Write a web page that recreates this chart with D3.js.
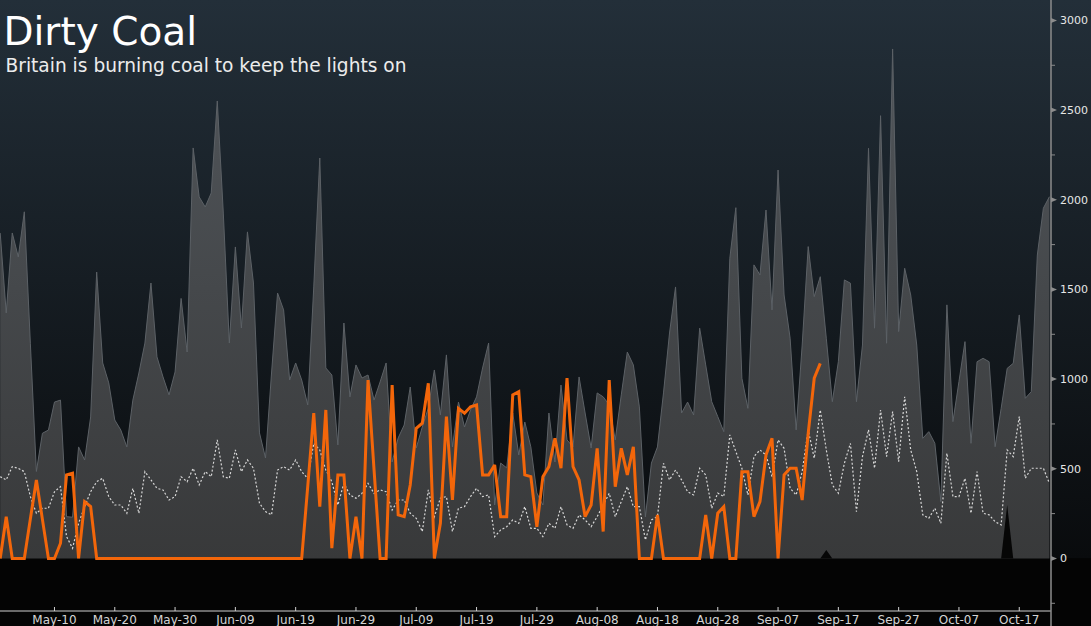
<!DOCTYPE html>
<html>
<head>
<meta charset="utf-8">
<script src="https://cdn.jsdelivr.net/npm/d3@7"></script>
<style>
  html, body { margin: 0; padding: 0; background: #040404; }
  svg { display: block; }
  text { font-family: "DejaVu Sans", Verdana, sans-serif; }
</style>
</head>
<body>
<svg id="chart" width="1091" height="626"></svg>
<script>
// ---------- DATA ----------
const startDate = "2019-05-01";   // first daily observation
const endDate = "2019-10-22";

// Grey area series (daily)
const greyValues = [
  1815,1369,1815,1681,1933,1200,485,698,716,872,
  883,233,230,622,549,789,1597,1090,979,772,
  716,622,883,1034,1201,1536,1124,1012,912,1040,
  1450,1151,2289,2016,1960,2038,2551,1926,1201,1737,
  1285,1821,1536,700,560,1034,1480,1386,995,1090,
  995,856,1514,2233,1062,1023,633,1313,901,1079,
  1006,1023,883,984,1090,538,672,744,956,616,
  733,839,1051,800,1135,622,872,733,828,901,
  1062,1201,298,532,505,811,577,761,622,365,
  298,811,538,967,661,622,1012,811,616,923,
  901,856,661,912,1151,1079,845,232,532,622,
  923,1257,1514,811,872,800,1284,1079,874,791,
  707,1674,1956,1005,837,1637,1581,1943,1386,2166,
  1469,1228,717,1190,1739,1460,1571,1228,874,1097,
  1553,1535,874,1190,2287,1284,2469,1200,2841,1265,
  1618,1469,1190,670,707,642,317,1414,763,986,
  1209,642,1097,1116,1097,623,837,1060,1088,1358,
  893,930,1692,1953,2017
];

// Dotted white line series (daily)
const dottedValues = [
  456,438,512,503,484,345,252,280,280,372,
  400,122,57,196,289,372,428,447,345,298,
  298,252,391,252,484,438,391,382,326,345,
  456,428,503,410,484,456,661,456,447,605,
  484,549,503,308,261,243,493,512,493,549,
  484,447,642,605,493,428,298,419,354,336,
  363,419,363,382,372,270,326,326,252,224,
  150,382,233,336,345,150,280,289,345,391,
  345,354,122,159,177,215,196,289,168,168,
  122,196,168,289,187,168,243,215,177,233,
  298,363,233,317,400,289,289,103,215,233,
  531,438,493,438,372,354,503,466,280,364,
  345,689,596,503,354,568,605,577,456,661,
  614,391,354,484,717,559,828,605,410,364,
  531,642,261,568,717,503,828,568,819,540,
  902,605,484,243,224,280,196,587,345,345,
  447,252,484,252,243,205,187,605,568,791,
  447,503,503,503,419
];

// Orange line series (daily, ends mid-September)
const orangeValues = [
  0,233,0,0,0,220,438,218,0,0,
  85,466,475,0,317,289,0,0,0,0,
  0,0,0,0,0,0,0,0,0,0,
  0,0,0,0,0,0,0,0,0,0,
  0,0,0,0,0,0,0,0,0,0,
  0,400,810,289,828,57,466,466,0,233,
  0,995,494,0,0,967,243,233,410,726,
  754,977,0,196,791,326,837,810,846,856,
  466,466,521,233,233,912,930,466,456,177,
  456,512,670,503,1005,512,438,233,298,614,
  150,995,400,614,466,623,0,0,0,243,
  0,0,0,0,0,0,0,243,0,252,
  289,0,0,484,484,233,317,577,670,0,
  466,503,503,326,698,1005,1088
];

// Dark (below-zero colour) spikes drawn in front of the grey area
const darkValues = new Array(175).fill(0);
darkValues[136] = 0; darkValues[137] = 47; darkValues[138] = 0;
darkValues[166] = 0; darkValues[167] = 298; darkValues[168] = 0;

const xTickLabels = ["May-10","May-20","May-30","Jun-09","Jun-19","Jun-29","Jul-09","Jul-19","Jul-29",
                     "Aug-08","Aug-18","Aug-28","Sep-07","Sep-17","Sep-27","Oct-07","Oct-17"];
const yTickValues = [0, 500, 1000, 1500, 2000, 2500, 3000];
const yMinorValues = [-250, 250, 750, 1250, 1750, 2250, 2750];

const title = "Dirty Coal";
const subtitle = "Britain is burning coal to keep the lights on";

// ---------- SETUP ----------
const W = 1091, H = 626;
const axisX = 1051, axisY = 611;
const parse = d3.timeParse("%Y-%m-%d");
const t0 = parse(startDate);
const dates = greyValues.map((_, i) => d3.timeDay.offset(t0, i));

const x = d3.scaleTime().domain([t0, parse(endDate)]).range([0.2, 1049.4]);
const y = d3.scaleLinear().domain([-293, 3114]).range([axisY, 0]);

const svg = d3.select("#chart");
const defs = svg.append("defs");

const bg = defs.append("linearGradient").attr("id", "bg")
  .attr("gradientUnits", "userSpaceOnUse").attr("x1", 0).attr("y1", 0).attr("x2", 0).attr("y2", y(0));
bg.append("stop").attr("offset", 0).attr("stop-color", "#232f39");
bg.append("stop").attr("offset", 0.5).attr("stop-color", "#161d23");
bg.append("stop").attr("offset", 1).attr("stop-color", "#090b0d");

const ag = defs.append("linearGradient").attr("id", "ag")
  .attr("gradientUnits", "userSpaceOnUse").attr("x1", 0).attr("y1", 20).attr("x2", 0).attr("y2", y(0));
ag.append("stop").attr("offset", 0).attr("stop-color", "#52575c");
ag.append("stop").attr("offset", 1).attr("stop-color", "#38393a");

defs.append("clipPath").attr("id", "plotclip").append("rect")
  .attr("x", 0).attr("y", 0).attr("width", axisX).attr("height", axisY);

// background
svg.append("rect").attr("x", 0).attr("y", 0).attr("width", W).attr("height", y(0)).attr("fill", "url(#bg)");
svg.append("rect").attr("x", 0).attr("y", y(0)).attr("width", W).attr("height", H - y(0)).attr("fill", "#040404");

const plot = svg.append("g").attr("clip-path", "url(#plotclip)");

// grey area
const area = d3.area().x((d, i) => x(dates[i])).y0(y(0)).y1(d => y(d));
plot.append("path").datum(greyValues).attr("d", area).attr("fill", "url(#ag)");
plot.append("path").datum(greyValues)
  .attr("d", d3.line().x((d, i) => x(dates[i])).y(d => y(d)))
  .attr("fill", "none").attr("stroke", "#5c6166").attr("stroke-width", 1);

// dark spikes
plot.append("path").datum(darkValues).attr("d", area).attr("fill", "#060606");

// dotted line
plot.append("path").datum(dottedValues)
  .attr("d", d3.line().x((d, i) => x(dates[i])).y(d => y(d)))
  .attr("fill", "none").attr("stroke", "#d8d8d8").attr("stroke-width", 1.2)
  .attr("stroke-dasharray", "2,2");

// orange line
plot.append("path").datum(orangeValues)
  .attr("d", d3.line().x((d, i) => x(dates[i])).y(d => y(d)))
  .attr("fill", "none").attr("stroke", "#f3660a").attr("stroke-width", 3)
  .attr("stroke-linejoin", "miter").attr("stroke-miterlimit", 3);

// ---------- AXES ----------
// x axis
const fmt = d3.timeParse("%Y-%b-%d");
const xTickDates = xTickLabels.map(l => fmt("2019-" + l));
const xg = svg.append("g");
xg.append("line").attr("x1", 0).attr("x2", axisX).attr("y1", axisY).attr("y2", axisY)
  .attr("stroke", "#d0d0d0").attr("stroke-width", 1.2);
xg.selectAll("line.tick").data(xTickDates).join("line").attr("class", "tick")
  .attr("x1", d => x(d)).attr("x2", d => x(d)).attr("y1", axisY).attr("y2", axisY - 4)
  .attr("stroke", "#d0d0d0").attr("stroke-width", 1);
xg.selectAll("text").data(xTickDates).join("text")
  .attr("x", d => x(d)).attr("y", 624).attr("text-anchor", "middle")
  .attr("fill", "#d4d4d4").attr("font-size", "12px")
  .text((d, i) => xTickLabels[i]);

// y axis
const yg = svg.append("g");
yg.append("line").attr("x1", axisX).attr("x2", axisX).attr("y1", 0).attr("y2", H)
  .attr("stroke", "#8c8c8c").attr("stroke-width", 1.5);
yg.selectAll("path.major").data(yTickValues).join("path").attr("class", "major")
  .attr("d", d => `M${axisX},${y(d) - 2.5}L${axisX + 6},${y(d)}L${axisX},${y(d) + 2.5}Z`)
  .attr("fill", "#8c8c8c");
yg.selectAll("line.minor").data(yMinorValues).join("line").attr("class", "minor")
  .attr("x1", axisX).attr("x2", axisX + 4).attr("y1", d => y(d)).attr("y2", d => y(d))
  .attr("stroke", "#8c8c8c").attr("stroke-width", 1);
yg.selectAll("text").data(yTickValues).join("text")
  .attr("x", 1060).attr("y", d => y(d)).attr("dy", "0.35em")
  .attr("fill", "#e6e6e6").attr("font-size", "11px")
  .text(d => d);

// ---------- TITLES ----------
svg.append("text").attr("x", 3.5).attr("y", 45).attr("fill", "#ffffff")
  .attr("font-size", "39px").text(title);
svg.append("text").attr("x", 5.5).attr("y", 71.5).attr("fill", "#ececec")
  .attr("font-size", "18.6px").text(subtitle);
</script>
</body>
</html>
